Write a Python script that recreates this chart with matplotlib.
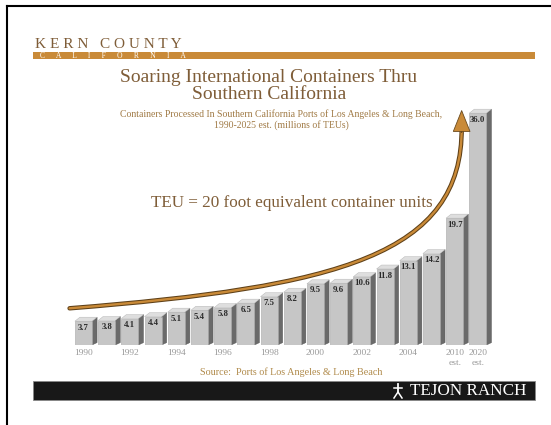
import numpy as np
import matplotlib.pyplot as plt
from matplotlib.patches import Polygon, Rectangle, FancyArrowPatch, PathPatch
from matplotlib.path import Path
from matplotlib.lines import Line2D

years = ['1990', '1991', '1992', '1993', '1994', '1995', '1996', '1997', '1998',
         '1999', '2000', '2001', '2002', '2003', '2004', '2005', '2010', '2020']
teus = [3.7, 3.8, 4.1, 4.4, 5.1, 5.4, 5.8, 6.5, 7.5, 8.2, 9.5, 9.6, 10.6,
        11.8, 13.1, 14.2, 19.7, 36.0]
tick_labels = ['1990', '', '1992', '', '1994', '', '1996', '', '1998', '',
               '2000', '', '2002', '', '2004', '', '2010\nest.', '2020\nest.']

W, H = 551, 425
serif = ['Liberation Serif', 'DejaVu Serif']
brown = '#7f5d38'
gold = '#c98a38'

fig = plt.figure(figsize=(W / 100, H / 100), dpi=100)
fig.patch.set_facecolor('white')


def fx(px):
    return px / W


def fy(py):
    return 1 - py / H


# frame lines
fig.add_artist(Line2D([fx(7), 1], [fy(6), fy(6)], color='black', lw=1.5))
fig.add_artist(Line2D([fx(7), fx(7)], [fy(6), 0], color='black', lw=1.5))

# header
fig.text(fx(35), fy(45), 'K E R N   C O U N T Y', family=serif, fontsize=11,
         color=brown, va='center', ha='left')
fig.add_artist(Rectangle((fx(33), fy(59)), fx(535) - fx(33), fy(52) - fy(59),
                         transform=fig.transFigure, color=gold, lw=0))
fig.text(fx(40), fy(55.5), 'C      A      L      I      F      O      R      N      I      A',
         family=serif, fontsize=5.5, color='white', va='center', ha='left')

fig.text(fx(269), fy(86), 'Soaring International Containers Thru\nSouthern California',
         family=serif, fontsize=14, color=brown, ha='center', va='center',
         linespacing=0.95)
fig.text(fx(281), fy(120), 'Containers Processed In Southern California Ports of Los Angeles & Long Beach,\n'
         '1990-2025 est. (millions of TEUs)',
         family=serif, fontsize=7, color='#a07a45', ha='center', va='center',
         linespacing=1.15)

# main axes (bars)
pitch = 23.2
vscale = 6.44
x_lo, x_hi = -0.8, 17.8
base_px = 345
ax_left = 83.5 + x_lo * pitch
ax_w = (x_hi - x_lo) * pitch
y_hi = 38
ax = fig.add_axes([fx(ax_left), fy(base_px), ax_w / W, y_hi * vscale / H])
ax.set_xlim(x_lo, x_hi)
ax.set_ylim(0, y_hi)
for s in ax.spines.values():
    s.set_visible(False)
ax.set_yticks([])
ax.patch.set_alpha(0)

x = np.arange(len(teus))
bw = 0.74
dx = 5 / pitch
dy = 4 / vscale
bars = ax.bar(x, teus, width=bw, color='#c6c6c6', edgecolor='#a8a8a8', lw=0.4, zorder=3)
for xi, v in zip(x, teus):
    r = xi + bw / 2
    l = xi - bw / 2
    ax.add_patch(Polygon([(r, 0), (r + dx, dy * 0.6), (r + dx, v + dy), (r, v)],
                         closed=True, facecolor='#6a6a6a', edgecolor='#555555',
                         lw=0.3, zorder=2))
    ax.add_patch(Polygon([(l, v), (l + dx, v + dy), (r + dx, v + dy), (r, v)],
                         closed=True, facecolor='#dedede', edgecolor='#b0b0b0',
                         lw=0.3, zorder=4))
    ax.text(xi, v - 0.4, '%.1f' % v, family=serif, fontsize=6.3, fontweight='bold',
            color='#2a2a2a', ha='center', va='top', zorder=5)

ax.set_xticks(x)
ax.set_xticklabels(tick_labels, family=serif, fontsize=6.8, color='#9a9a9a',
                   linespacing=1.25, va='top')
ax.tick_params(axis='x', length=0, pad=3)

# growth arrow: curved shaft plus a head
curve = Path([(-0.6, 5.7), (11.0, 9.0), (16.35, 14.0), (16.3, 33.8)],
             [Path.MOVETO, Path.CURVE4, Path.CURVE4, Path.CURVE4])
ax.add_patch(PathPatch(curve, facecolor='none', edgecolor='#5e4018', lw=3.2,
                       capstyle='round', zorder=6))
ax.add_patch(PathPatch(curve, facecolor='none', edgecolor=gold, lw=1.7,
                       capstyle='round', zorder=7))
ax.add_patch(FancyArrowPatch((16.3, 33.0), (16.3, 36.4),
                             arrowstyle='simple,head_length=1.0,head_width=0.8,tail_width=0.01',
                             mutation_scale=15, facecolor=gold, edgecolor='#6a4a1e',
                             lw=0.6, shrinkA=0, shrinkB=0, zorder=8))

fig.text(fx(292), fy(203), 'TEU = 20 foot equivalent container units', family=serif,
         fontsize=12.3, color=brown, ha='center', va='center')

fig.text(fx(291), fy(372), 'Source:  Ports of Los Angeles & Long Beach', family=serif,
         fontsize=7.3, color='#b08a4a', ha='center', va='center')

# footer
fig.add_artist(Rectangle((fx(33), fy(400)), fx(535) - fx(33), fy(381) - fy(400),
                         transform=fig.transFigure, facecolor='#181818',
                         edgecolor='#888888', lw=0.6))
fig.text(fx(527), fy(391), 'TEJON RANCH', family=serif, fontsize=12.3,
         color='white', ha='right', va='center')
# small figure icon
cx, cy = 398, 391
fig.add_artist(Line2D([fx(cx), fx(cx)], [fy(cy - 7), fy(cy + 1)], color='white', lw=1.3))
fig.add_artist(Line2D([fx(cx - 4), fx(cx + 4)], [fy(cy - 3), fy(cy - 3)], color='white', lw=1.1))
fig.add_artist(Line2D([fx(cx - 4), fx(cx), fx(cx + 4)], [fy(cy + 7), fy(cy + 1), fy(cy + 7)],
                      color='white', lw=1.1))

fig.savefig('out.png', dpi=100)
